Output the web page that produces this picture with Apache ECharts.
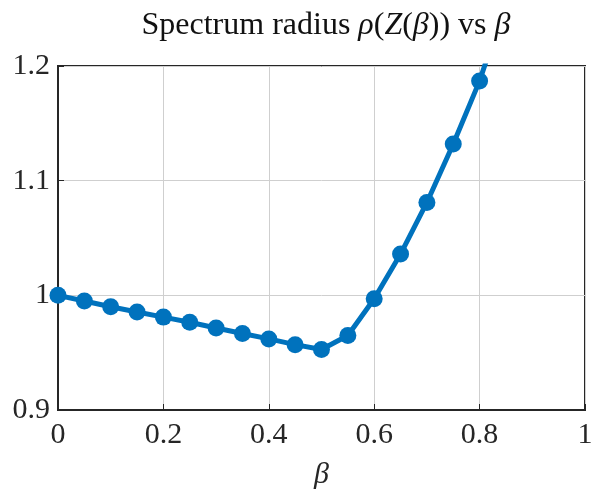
<!DOCTYPE html>
<html><head><meta charset="utf-8">
<script src="https://cdn.jsdelivr.net/npm/echarts@6/dist/echarts.min.js"></script>
<style>html,body{margin:0;padding:0;background:#fff}#c{width:592px;height:494px}</style>
</head><body><div id="c"></div>
<script>
var betaValues = [0, 0.05, 0.1, 0.15, 0.2, 0.25, 0.3, 0.35, 0.4, 0.45, 0.5, 0.55, 0.6, 0.65, 0.7, 0.75, 0.8, 0.85];
var rhoValues = [1.000, 0.995, 0.990, 0.9855, 0.981, 0.9765, 0.9715, 0.9667, 0.962, 0.957, 0.9527, 0.965, 0.997, 1.036, 1.081, 1.132, 1.187, 1.256];
var xTicks = [0, 0.2, 0.4, 0.6, 0.8, 1];
var yTicks = [0.9, 1, 1.1, 1.2];

var FONT = 'Liberation Serif';
var chart = echarts.init(document.getElementById('c'), null, {renderer: 'canvas'});
var data = betaValues.map(function (b, i) { return [b, rhoValues[i]]; });
chart.setOption({
  backgroundColor: '#ffffff',
  animation: false,
  title: {
    text: '{n|Spectrum radius }{i|ρ}{n|(}{i|Z}{n|(}{i|β}{n|)) vs }{i|β}',
    left: 321, top: 5, textAlign: 'center',
    textStyle: {
      fontWeight: 'normal',
      rich: {
        n: {fontFamily: FONT, fontSize: 32, fontWeight: 'normal', color: '#111'},
        i: {fontFamily: FONT, fontSize: 32, fontWeight: 'normal', fontStyle: 'italic', color: '#111'}
      }
    }
  },
  grid: {left: 58, right: 7, top: 66, bottom: 84, outerBoundsMode: 'none', containLabel: false,
    show: true, borderColor: '#262626', borderWidth: 2, backgroundColor: '#fff'},
  xAxis: {
    type: 'value', min: 0, max: 1, interval: 0.2,
    name: 'β', nameLocation: 'middle', nameGap: 50,
    nameTextStyle: {fontFamily: FONT, fontSize: 30, fontStyle: 'italic', color: '#262626'},
    axisLine: {show: true, lineStyle: {color: '#262626', width: 2}},
    axisTick: {show: true, inside: true, length: 6, lineStyle: {color: '#262626', width: 1}},
    axisLabel: {fontFamily: FONT, fontSize: 30, color: '#262626', margin: 10,
      formatter: function (v) { return xTicks.indexOf(+v.toFixed(2)) >= 0 ? String(+v.toFixed(2)) : ''; }},
    splitLine: {show: true, lineStyle: {color: '#cfcfcf', width: 1}}
  },
  yAxis: {
    type: 'value', min: 0.9, max: 1.2, interval: 0.1,
    axisLine: {show: true, lineStyle: {color: '#262626', width: 2}},
    axisTick: {show: true, inside: true, length: 6, lineStyle: {color: '#262626', width: 1}},
    axisLabel: {fontFamily: FONT, fontSize: 30, color: '#262626', margin: 8,
      formatter: function (v) { return yTicks.indexOf(+v.toFixed(2)) >= 0 ? String(+v.toFixed(2)) : ''; }},
    splitLine: {show: true, lineStyle: {color: '#cfcfcf', width: 1}}
  },
  series: [{
    type: 'line', data: data, clip: true,
    symbol: 'circle', symbolSize: 17, showSymbol: true,
    lineStyle: {color: '#0072BD', width: 5},
    itemStyle: {color: '#0072BD', borderColor: '#0072BD', borderWidth: 0}
  }]
});
</script></body></html>
